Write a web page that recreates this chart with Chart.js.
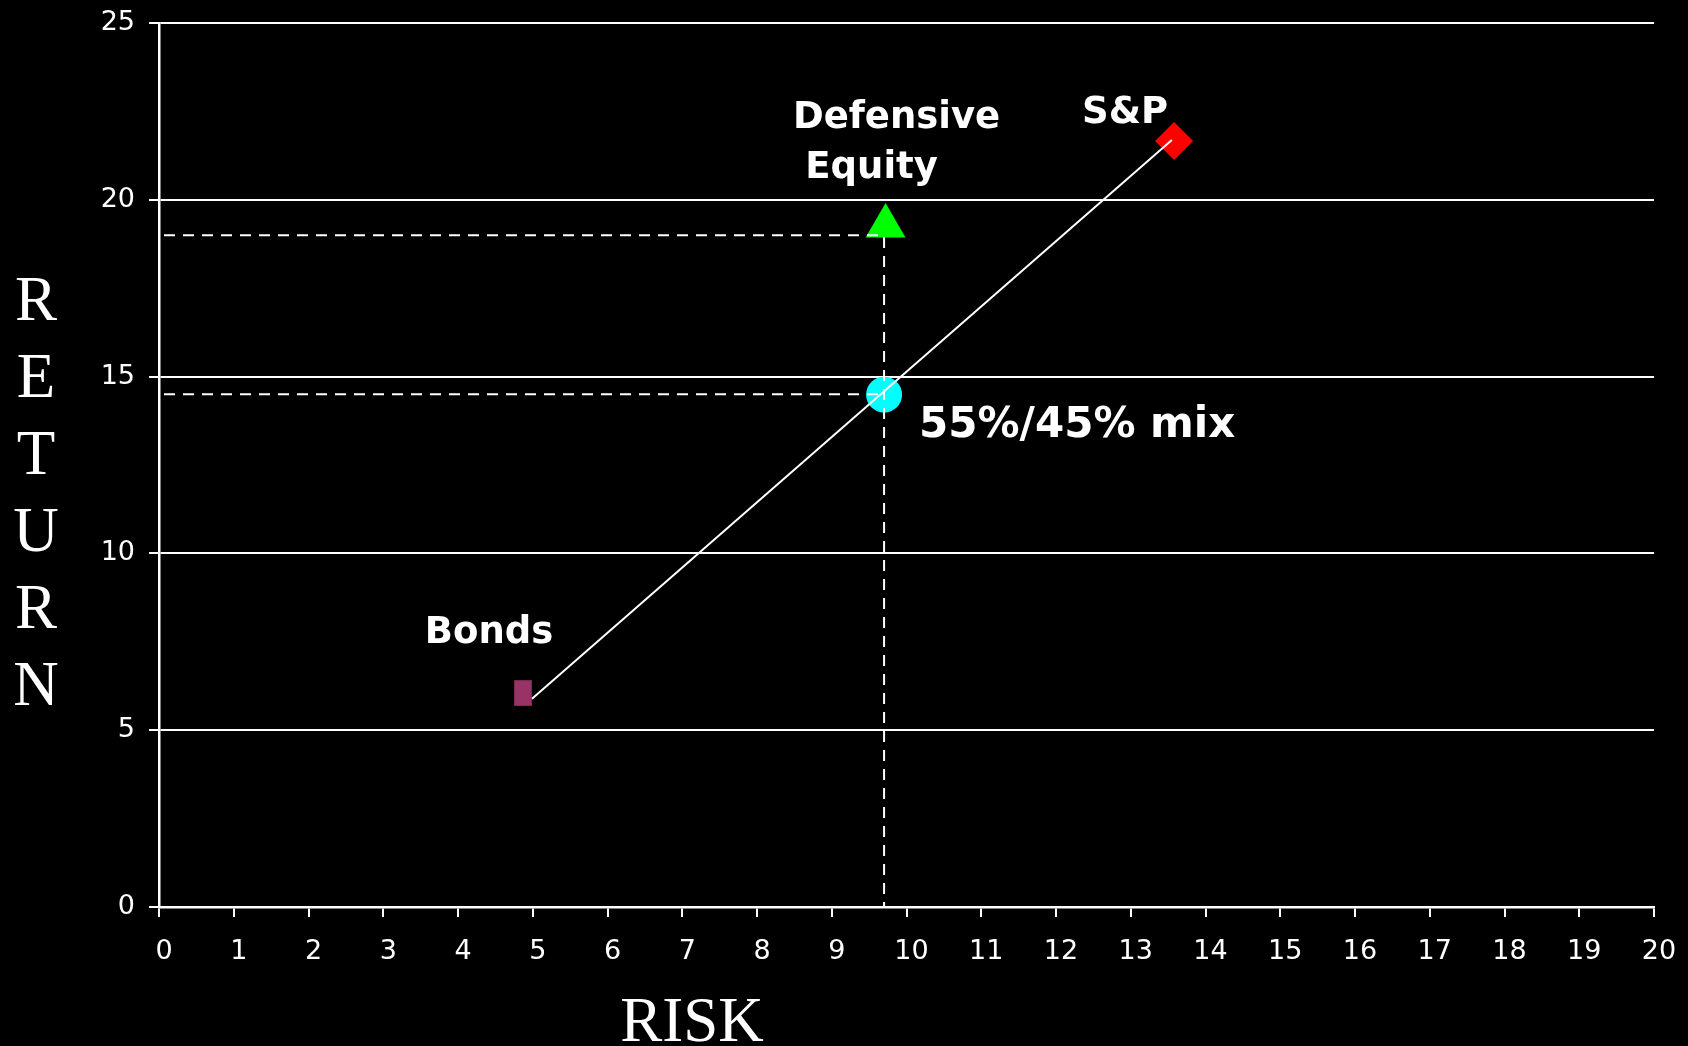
<!DOCTYPE html>
<html>
<head>
<meta charset="utf-8">
<title>Risk / Return</title>
<script src="https://cdn.jsdelivr.net/npm/chart.js@4/dist/chart.umd.min.js"></script>
<style>
  html, body { margin: 0; padding: 0; background: #000; }
  #wrap { width: 1688px; height: 1046px; }
</style>
</head>
<body>
<div id="wrap"><canvas id="c" width="1688" height="1046"></canvas></div>
<script>
// ---- data ----
const assetNames = ['Bonds', 'S&P', 'Defensive Equity', '55%/45% mix'];
const bondsPoint = [{ x: 4.87, y: 6.05 }];
const spPoint = [{ x: 13.58, y: 21.66 }];
const defensivePoint = [{ x: 9.72, y: 19.26 }];
const mixPoint = [{ x: 9.70, y: 14.49 }];
const frontierLine = [{ x: 4.99, y: 5.89 }, { x: 13.55, y: 21.69 }];
const defensiveGuide = [{ x: 0, y: 19 }, { x: 9.7, y: 19 }, { x: 9.7, y: 0 }];
const mixGuide = [{ x: 0, y: 14.5 }, { x: 9.7, y: 14.5 }];
const xRange = [0, 20];
const yRange = [0, 25];
const xAxisTitle = 'RISK';
const yAxisTitle = 'RETURN';

// upright rectangle marker for bonds
const bondsMarker = document.createElement('canvas');
bondsMarker.width = 18;
bondsMarker.height = 26;
(function () {
  const g = bondsMarker.getContext('2d');
  g.fillStyle = '#993366';
  g.fillRect(0, 0, 18, 26);
  g.strokeStyle = '#7a2850';
  g.lineWidth = 1;
  g.strokeRect(0.5, 0.5, 17, 25);
})();

const tickFont = { family: '"DejaVu Sans", Verdana, sans-serif', size: 27 };
const labelFont = 'bold 37px "DejaVu Sans", Verdana, sans-serif';
const mixFont = 'bold 42px "DejaVu Sans", Verdana, sans-serif';
const titleFont = '63px "Liberation Serif", "Times New Roman", serif';

// text annotations next to markers and the axis titles
const annotate = {
  id: 'annotate',
  afterDatasetsDraw(chart) {
    const { ctx, scales: { x, y } } = chart;
    const px = p => [x.getPixelForValue(p.x), y.getPixelForValue(p.y)];
    ctx.save();
    ctx.fillStyle = '#fff';
    ctx.font = labelFont;
    ctx.textBaseline = 'alphabetic';

    const [bx, by] = px(bondsPoint[0]);
    ctx.textAlign = 'center';
    ctx.fillText(assetNames[0], bx - 34, by - 50);

    const [sx, sy] = px(spPoint[0]);
    ctx.fillText(assetNames[1], sx - 49, sy - 18);

    const [dx, dy] = px(defensivePoint[0]);
    const defLines = assetNames[2].split(' ');
    ctx.fillText(defLines[0], dx + 11, dy - 98);
    ctx.fillText(defLines[1], dx - 14, dy - 48);

    const [mx, my] = px(mixPoint[0]);
    ctx.font = mixFont;
    ctx.textAlign = 'left';
    ctx.fillText(assetNames[3], mx + 35, my + 42);

    // axis titles
    ctx.font = titleFont;
    ctx.textAlign = 'center';
    ctx.fillText(xAxisTitle, 692, 1041);
    yAxisTitle.split('').forEach((ch, i) => ctx.fillText(ch, 36, 320 + i * 77));
    ctx.restore();
  }
};

new Chart(document.getElementById('c'), {
  type: 'scatter',
  data: {
    datasets: [
      {
        label: 'Bonds',
        data: bondsPoint,
        pointStyle: bondsMarker,
        pointRadius: 13,
        order: 5
      },
      {
        label: 'S&P',
        data: spPoint,
        pointStyle: 'rectRot',
        pointRadius: 19,
        backgroundColor: '#ff0000',
        borderColor: '#ff0000',
        borderWidth: 0,
        order: 5
      },
      {
        label: 'Defensive Equity',
        data: defensivePoint,
        pointStyle: 'triangle',
        pointRadius: 23,
        backgroundColor: '#00ff00',
        borderColor: '#00ff00',
        borderWidth: 0,
        order: 5
      },
      {
        label: '55%/45% mix',
        data: mixPoint,
        pointStyle: 'circle',
        pointRadius: 18,
        backgroundColor: '#00ffff',
        borderColor: '#00ffff',
        borderWidth: 0,
        order: 5
      },
      {
        label: 'frontier',
        data: frontierLine,
        showLine: true,
        borderColor: '#ffffff',
        borderWidth: 2,
        pointRadius: 0,
        order: 1
      },
      {
        label: 'defensive guide',
        data: defensiveGuide,
        showLine: true,
        borderColor: '#ffffff',
        borderWidth: 2,
        borderDash: [11, 8],
        borderDashOffset: -5,
        pointRadius: 0,
        order: 2
      },
      {
        label: 'mix guide',
        data: mixGuide,
        showLine: true,
        borderColor: '#ffffff',
        borderWidth: 2,
        borderDash: [11, 8],
        borderDashOffset: -5,
        pointRadius: 0,
        order: 2
      }
    ]
  },
  options: {
    responsive: false,
    animation: false,
    devicePixelRatio: 1,
    layout: { padding: { top: 18, right: 34, left: 0, bottom: 0 } },
    plugins: {
      legend: { display: false },
      tooltip: { enabled: false },
      title: { display: false }
    },
    scales: {
      x: {
        type: 'linear',
        min: xRange[0],
        max: xRange[1],
        afterFit(scale) {
          scale.height = 139;
          scale.paddingLeft = 0;
          scale.paddingRight = 0;
        },
        border: { display: true, color: '#ffffff', width: 2.5 },
        grid: {
          display: true,
          drawOnChartArea: false,
          drawTicks: true,
          tickLength: 10,
          color: '#ffffff',
          lineWidth: 2
        },
        ticks: {
          stepSize: 1,
          color: '#ffffff',
          font: tickFont,
          padding: 19,
          labelOffset: 5,
          maxRotation: 0,
          autoSkip: false
        }
      },
      y: {
        type: 'linear',
        min: yRange[0],
        max: yRange[1],
        afterFit(scale) {
          scale.width = 159;
          scale.paddingTop = 0;
          scale.paddingBottom = 0;
        },
        border: { display: true, color: '#ffffff', width: 2.5 },
        grid: {
          display: true,
          drawTicks: true,
          tickLength: 10,
          color: '#ffffff',
          lineWidth: 2
        },
        ticks: {
          stepSize: 5,
          color: '#ffffff',
          font: tickFont,
          padding: 14
        }
      }
    }
  },
  plugins: [annotate, {
    id: 'bg',
    beforeDraw(chart) {
      const c = chart.ctx;
      c.save();
      c.fillStyle = '#000';
      c.fillRect(0, 0, chart.width, chart.height);
      c.restore();
    }
  }]
});
</script>
</body>
</html>
